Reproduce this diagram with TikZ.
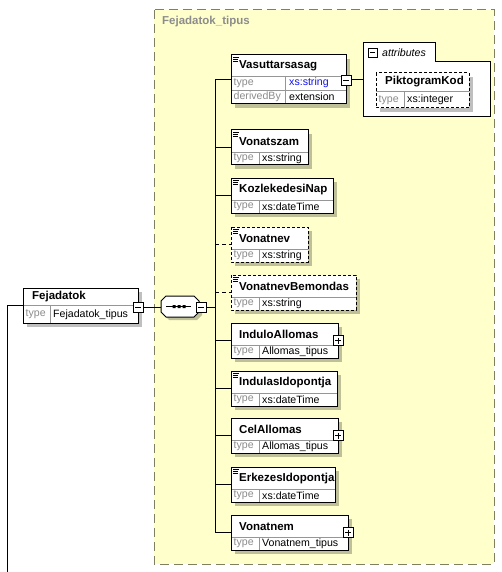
\documentclass[tikz,border=0pt]{standalone}
\usepackage{fontspec}
\setmainfont{Liberation Sans}
\definecolor{yel}{RGB}{255,255,204}
\definecolor{yelborder}{RGB}{128,128,96}
\definecolor{lblgray}{RGB}{140,140,140}
\definecolor{divgray}{RGB}{150,150,150}
\definecolor{xsblue}{RGB}{20,20,230}
\tikzset{
  x=1pt, y=-1pt,
  shadowc/.style={fill=black, fill opacity=0.25},
  ebox/.style={fill=white, inner sep=0pt, outer sep=0pt},
  bline/.style={draw=black, line width=1pt},
  dline/.style={draw=black, line width=1pt, dash pattern=on 3pt off 2pt},
  divl/.style={draw=divgray, line width=0.8pt},
  titlet/.style={anchor=west, inner sep=0pt, font=\fontsize{11.5}{13}\selectfont\bfseries},
  typel/.style={anchor=west, inner sep=0pt, text=lblgray, font=\fontsize{10.6}{12}\selectfont},
  typev/.style={anchor=west, inner sep=0pt, font=\fontsize{10.6}{12}\selectfont},
  conn/.style={draw=black, line width=1pt},
  optconn/.style={draw=black, line width=1pt, dash pattern=on 4pt off 3pt},
  pmb/.style={draw=black, fill=white, line width=0.8pt, minimum size=10pt, inner sep=0pt},
}
% element box: #1 name, #2 left, #3 top, #4 width, #5 title, #6 type, #7 border style
\newcommand\elem[7]{%
  \fill[shadowc] ({#2+4},{#3+4}) rectangle ++(#4,35);
  \node[ebox,minimum width=#4,minimum height=35,anchor=north west] (#1) at (#2,#3) {};
  \draw[divl] ({#2},{#3+22}) -- ++(#4,0);
  \draw[divl] ({#2+28},{#3+22}) -- ++(0,13);
  \draw[#7] (#1.north west) rectangle (#1.south east);
  \node[titlet] at ({#2+8},{#3+11.5}) {#5};
  \node[typel] at ({#2+2.5},{#3+28.5}) {type};
  \node[typev] at ({#2+31},{#3+28.5}) {#6};
}
\newcommand\docicon[2]{%
  \draw[line width=0.7pt] ({#1+2},{#2+2}) -- ++(6,0) ({#1+2},{#2+4}) -- ++(5,0) ({#1+2},{#2+6}) -- ++(5,0);
}
% plus/minus box: #1 name, #2 x, #3 y, #4 1 = plus
\newcommand\pmbox[4]{%
  \node[pmb] (#1) at (#2,#3) {};
  \draw[line width=0.8pt] ({#2-3},{#3}) -- ({#2+3},{#3});
  \ifnum#4=1 \draw[line width=0.8pt] ({#2},{#3-3}) -- ({#2},{#3+3});\fi
}
\begin{document}
\begin{tikzpicture}
\useasboundingbox (0,0) rectangle (501,572);
% complex type area
\fill[yel] (154,10) rectangle (494,564);
\draw[yelborder, line width=1pt, dash pattern=on 9pt off 5pt] (154,10) rectangle (494,564);
\node[anchor=west, inner sep=0pt, text=lblgray, font=\fontsize{11.5}{13}\selectfont\bfseries] (ctitle) at (162,22) {Fejadatok\_tipus};

% trunk coordinate
\coordinate (trunk) at (215,0);
\coordinate (leftend) at (7,572);

% Fejadatok
\fill[shadowc] (27,292) rectangle ++(115,35);
\node[ebox,minimum width=115,minimum height=35,anchor=north west] (fej) at (23,288) {};
\draw[divl] (23,305) -- ++(115,0);
\draw[divl] (50,305) -- ++(0,18);
\draw[bline] (fej.north west) rectangle (fej.south east);
\node[titlet] (fejt) at (32,297) {Fejadatok};
\node[typel] (fejl) at (25.5,314.5) {type};
\node[typev] (fejv) at (53,314.5) {Fejadatok\_tipus};
\pmbox{fejm}{138}{307}{0}

% sequence compositor
\fill[shadowc] (169,299) -- (197,299) -- (202,304) -- (202,315) -- (197,320) -- (169,320) -- (164,315) -- (164,304) -- cycle;
\filldraw[fill=white, draw=black, line width=1pt] (166,296) -- (194,296) -- (199,301) -- (199,312) -- (194,317) -- (166,317) -- (161,312) -- (161,301) -- cycle;
\node[inner sep=0pt, minimum width=38, minimum height=21] (seq) at (180,306.5) {};
\draw[line width=1pt] (166,306.5) -- (191,306.5);
\fill (172.5,305) rectangle ++(3,3) (177.5,305) rectangle ++(3,3) (182.5,305) rectangle ++(3,3);
\pmbox{seqm}{201}{307}{0}

\draw[conn] (fejm.east) -- (seq.west |- fejm.east);
\draw[conn] (fej.west) -| (leftend);
\draw[conn] (seqm.east) -- (seqm.east -| trunk);

% Vasuttarsasag
\fill[shadowc] (235,59) rectangle ++(115,49);
\node[ebox,minimum width=115,minimum height=49,anchor=north west] (vas) at (231,55) {};
\draw[divl] (231,76) -- ++(115,0);
\draw[divl] (231,90) -- ++(115,0);
\draw[divl] (285,76) -- ++(0,28);
\draw[bline] (vas.north west) rectangle (vas.south east);
\docicon{231}{55}
\node[titlet] (vast) at (239,66) {Vasuttarsasag};
\node[typel] (vasl1) at (233.5,83) {type};
\node[typev, text=xsblue] (vasv1) at (289,83) {xs:string};
\node[typel] (vasl2) at (233.5,97) {derivedBy};
\node[typev] (vasv2) at (289,97) {extension};
\pmbox{vasm}{346}{80}{0}

% attributes
\filldraw[fill=white, draw=black, line width=1pt] (363,117) -- (363,43) -- (435,43) -- (435,62) -- (490,62) -- (490,117) -- cycle;
\node[inner sep=0pt, minimum width=127, minimum height=74, anchor=north west] (attrs) at (363,43) {};
\node[pmb, minimum size=9pt] (attm) at (372.5,52.5) {};
\draw[line width=0.8pt] (370,52.5) -- (375,52.5);
\node[anchor=west, inner sep=0pt, font=\fontsize{10.6}{12}\selectfont\itshape] (attt) at (382,52.5) {attributes};
\draw[conn] (vasm.east) -- (attrs.west |- vasm.east);

% PiktogramKod
\fill[shadowc] (380,77) rectangle ++(93,35);
\node[ebox,minimum width=93,minimum height=35,anchor=north west] (pikt) at (376,73) {};
\draw[divl] (376,91) -- ++(93,0);
\draw[divl] (404,91) -- ++(0,17);
\draw[dline] (pikt.north west) rectangle (pikt.south east);
\node[titlet] (piktt) at (385,82) {PiktogramKod};
\node[typel] (piktl) at (378.5,100) {type};
\node[typev] (piktv) at (407,100) {xs:integer};

% children
\elem{vonatszam}{231}{130}{77}{Vonatszam}{xs:string}{bline}
\docicon{231}{130}
\elem{kozlnap}{231}{178}{102}{KozlekedesiNap}{xs:dateTime}{bline}
\docicon{231}{178}
\elem{vonatnev}{231}{227}{77}{Vonatnev}{xs:string}{dline}
\docicon{231}{227}
\elem{vnb}{231}{275}{125}{VonatnevBemondas}{xs:string}{dline}
\docicon{231}{275}
\elem{indulo}{231}{323}{107}{InduloAllomas}{Allomas\_tipus}{bline}
\pmbox{indulop}{338}{340.5}{1}
\elem{indidop}{231}{371}{106}{IndulasIdopontja}{xs:dateTime}{bline}
\docicon{231}{371}
\elem{cel}{231}{418}{107}{CelAllomas}{Allomas\_tipus}{bline}
\pmbox{celp}{338}{435.5}{1}
\elem{erkid}{231}{467}{104}{ErkezesIdopontja}{xs:dateTime}{bline}
\docicon{231}{467}
\elem{vonatnem}{231}{515}{117}{Vonatnem}{Vonatnem\_tipus}{bline}
\pmbox{vonatnemp}{348}{532.5}{1}

% trunk and connectors
\draw[conn] (vas.west -| trunk) -- (vonatnem.west -| trunk);
\draw[conn] (vas.west -| trunk) -- (vas.west);
\draw[conn] (vonatszam.west -| trunk) -- (vonatszam.west);
\draw[conn] (kozlnap.west -| trunk) -- (kozlnap.west);
\draw[optconn] (vonatnev.west -| trunk) -- (vonatnev.west);
\draw[optconn] (vnb.west -| trunk) -- (vnb.west);
\draw[conn] (indulo.west -| trunk) -- (indulo.west);
\draw[conn] (indidop.west -| trunk) -- (indidop.west);
\draw[conn] (cel.west -| trunk) -- (cel.west);
\draw[conn] (erkid.west -| trunk) -- (erkid.west);
\draw[conn] (vonatnem.west -| trunk) -- (vonatnem.west);
\end{tikzpicture}
\end{document}
